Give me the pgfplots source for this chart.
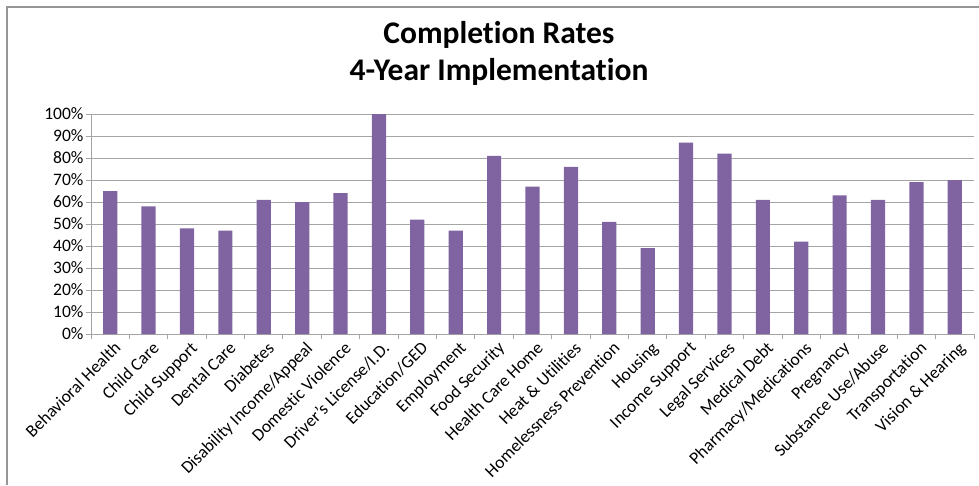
\documentclass[border=0pt]{standalone}
\usepackage{fontspec}
\setmainfont{Carlito}[Ligatures=NoCommon]
\usepackage{pgfplots}
\pgfplotsset{compat=1.18}
\definecolor{barpurple}{RGB}{128,100,162}
\definecolor{gridgray}{RGB}{165,165,165}
\definecolor{framegray}{RGB}{150,150,150}
\begin{document}
\begin{tikzpicture}
\path[use as bounding box] (0pt,0pt) rectangle (979pt,485pt);
\draw[framegray, line width=1.5pt] (7pt,0pt) -- (7pt,478pt) -- (979pt,478pt);
\begin{axis}[
  at={(91pt,151pt)}, anchor=south west,
  width=883pt, height=220pt, scale only axis,
  ybar, bar width=0.37,
  xmin=-0.5, xmax=22.5, ymin=0, ymax=100,
  ytick={0,10,...,100},
  yticklabel={\pgfmathprintnumber{\tick}\%},
  /pgf/number format/assume math mode=true,
  xtick={-0.5,0.5,...,22.5},
  x tick label as interval,
  xticklabels={Behavioral Health, Child Care, Child Support, Dental Care, Diabetes,
    Disability Income/Appeal, Domestic Violence, Driver's License/I.D., Education/GED,
    Employment, Food Security, Health Care Home, Heat \& Utilities, Homelessness Prevention,
    Housing, Income Support, Legal Services, Medical Debt, Pharmacy/Medications,
    Pregnancy, Substance Use/Abuse, Transportation, Vision \& Hearing},
  xticklabel style={rotate=45, anchor=north east, inner sep=1pt, xshift=2pt, yshift=-2pt,
    font=\fontsize{17.5}{20}\selectfont},
  yticklabel style={font=\fontsize{17.5}{20}\selectfont, xshift=1pt},
  tick label style={black},
  axis x line*=bottom, axis y line*=left,
  axis line style={gridgray, line width=1pt, -},
  tick style={gridgray, line width=1pt},
  tick align=outside, major tick length=5pt,
  ymajorgrids, grid style={gridgray, line width=1pt},
  title={Completion Rates\\4-Year Implementation},
  title style={at={(axis description cs:0.462,1)}, anchor=south, inner sep=0pt, yshift=22pt,
    align=center, font=\fontsize{31.5}{37}\selectfont\bfseries},
]
\addplot[fill=barpurple, draw=none] coordinates {
  (0,65) (1,58) (2,48) (3,47) (4,61) (5,60) (6,64) (7,100) (8,52) (9,47)
  (10,81) (11,67) (12,76) (13,51) (14,39) (15,87) (16,82) (17,61) (18,42)
  (19,63) (20,61) (21,69) (22,70)
};
\end{axis}
\end{tikzpicture}
\end{document}
